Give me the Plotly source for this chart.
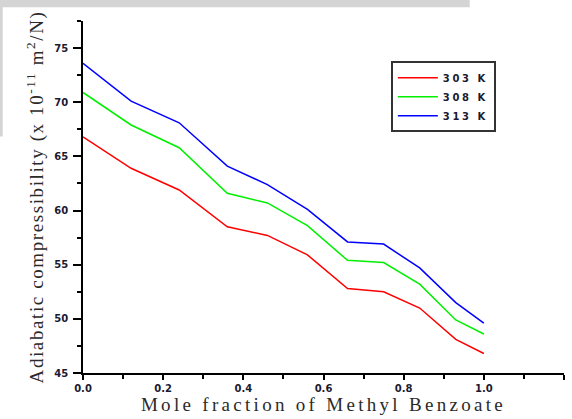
import plotly.graph_objects as go

mole_fraction = [0.0, 0.12, 0.24, 0.36, 0.46, 0.56, 0.66, 0.75, 0.84, 0.93, 1.0]
beta_303 = [66.8, 63.9, 61.9, 58.5, 57.7, 55.9, 52.8, 52.5, 51.0, 48.1, 46.8]
beta_308 = [70.9, 67.9, 65.8, 61.6, 60.7, 58.6, 55.4, 55.2, 53.2, 49.9, 48.6]
beta_313 = [73.6, 70.1, 68.1, 64.1, 62.4, 60.1, 57.1, 56.9, 54.7, 51.5, 49.6]
series_names = ["303 K", "308 K", "313 K"]
series_colors = ["#ff0000", "#00f000", "#0000ff"]

x_tickvals = [0.0, 0.2, 0.4, 0.6, 0.8, 1.0, 1.2]
x_ticktext = ["0.0", "0.2", "0.4", "0.6", "0.8", "1.0", "1.2"]
y_tickvals = [45, 50, 55, 60, 65, 70, 75]

tick_font = dict(family="DejaVu Sans", size=10, color="#1a1a33", weight="bold")
title_font = dict(family="Liberation Serif", size=19, color="#2a2a2a")

fig = go.Figure()
for i, (name, ys, col) in enumerate(zip(series_names, [beta_303, beta_308, beta_313], series_colors)):
    fig.add_trace(go.Scatter(
        x=mole_fraction, y=ys, mode="lines",
        name=f'<span style="letter-spacing:2.6px">{name}</span>',
        line=dict(color=col, width=1.5),
    ))

fig.update_layout(
    width=572, height=419,
    margin=dict(l=83, r=8, t=21, b=46, autoexpand=False),
    paper_bgcolor="white", plot_bgcolor="white",
    showlegend=True,
    legend=dict(
        x=0.640, y=0.886, xanchor="left", yanchor="top",
        bordercolor="#333333", borderwidth=2, bgcolor="white",
        font=dict(family="DejaVu Sans", size=10, color="#1a1a33", weight="bold"),
        itemwidth=40,
    ),
    shapes=[
        dict(type="rect", xref="paper", yref="paper", x0=-0.18, x1=0.804, y0=1.039, y1=1.07,
             fillcolor="#d4d4d4", line=dict(width=0), layer="below"),
        dict(type="rect", xref="paper", yref="paper", x0=-0.18, x1=-0.1669, y0=0.672, y1=1.07,
             fillcolor="#d4d4d4", line=dict(width=0), layer="below"),
    ],
)

fig.update_xaxes(
    range=[0, 1.2], showgrid=False, zeroline=False,
    showline=True, linecolor="black", linewidth=1.5, mirror=False,
    tickmode="array", tickvals=x_tickvals, ticktext=x_ticktext,
    ticks="outside", ticklen=5, tickwidth=1.5, tickcolor="black",
    minor=dict(ticks="outside", ticklen=4, tickwidth=1.5, tickcolor="black", dtick=0.1, showgrid=False),
    tickfont=tick_font,
    title=dict(text='<span style="letter-spacing:3.3px">Mole fraction of Methyl Benzoate</span>',
               font=title_font, standoff=1),
    automargin=False,
)
fig.update_yaxes(
    range=[45, 77.5], showgrid=False, zeroline=False,
    showline=True, linecolor="black", linewidth=1.5, mirror=False,
    tickmode="array", tickvals=y_tickvals,
    ticks="outside", ticklen=8, tickwidth=1.5, tickcolor="black",
    minor=dict(ticks="outside", ticklen=4, tickwidth=1.5, tickcolor="black", dtick=2.5, showgrid=False),
    tickfont=tick_font, ticklabelstandoff=3,
    title=dict(text='<span style="letter-spacing:1.6px">Adiabatic compressibility (x 10<sup>-11</sup> m<sup>2</sup>/N)</span>',
               font=title_font, standoff=6),
    automargin=False,
)

fig.write_html("out.html")
